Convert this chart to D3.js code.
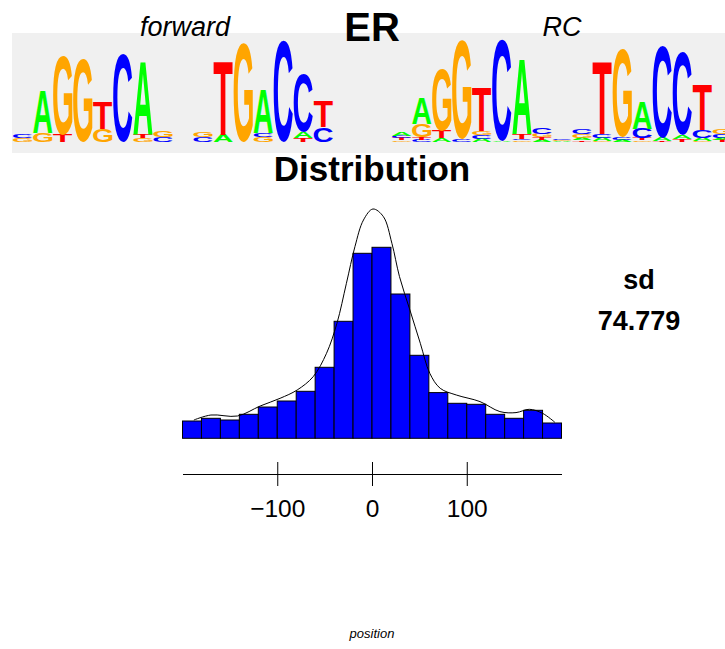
<!DOCTYPE html>
<html>
<head>
<meta charset="utf-8">
<script src="https://cdn.jsdelivr.net/npm/d3@7"></script>
<style>
  body { margin: 0; background: #fff; }
  svg { display: block; }
</style>
</head>
<body>
<div id="chart"></div>
<script>
// histogram of positions, bins of 20 from -200 to 200
const binStart = [-200, -180, -160, -140, -120, -100, -80, -60, -40, -20,
                  0, 20, 40, 60, 80, 100, 120, 140, 160, 180];
const binCounts = [17.3, 20, 18.3, 24, 31.3, 37.3, 47, 71, 117, 185,
                   191, 144.3, 83, 45.7, 35, 34, 24, 20, 28, 15.3];

// smoothed density (same units as the bars)
const densX = [-188, -170, -142, -118, -97, -79, -62, -48, -37, -27, -18, -9, 1,
               12, 21, 29, 40, 51, 61, 72, 89, 114, 135, 152, 166, 180, 193];
const densY = [18.3, 23.3, 22.3, 32.3, 40, 48.3, 61.7, 85, 115, 155, 191.7, 218.3, 229.3,
               221.7, 195, 161.7, 128.3, 95, 65, 50, 43.3, 36.7, 26.7, 25.7, 29, 25, 16];

const xTicks = [-100, 0, 100];
const sdValue = "74.779";

// sequence logos: each column is a bottom-up stack of [letter, bits]
const fwdLogo = [
  [["G", 0.08], ["C", 0.08]],
  [["G", 0.17], ["A", 0.83]],
  [["T", 0.14], ["G", 1.53]],
  [["G", 1.61]],
  [["G", 0.25], ["T", 0.52]],
  [["C", 1.71]],
  [["G", 0.08], ["T", 0.08], ["A", 1.40]],
  [["C", 0.10], ["G", 0.12]],
  [],
  [["C", 0.10], ["G", 0.11]],
  [["A", 0.14], ["T", 1.44]],
  [["G", 1.92]],
  [["G", 0.10], ["C", 0.08], ["A", 0.85]],
  [["C", 1.96]],
  [["T", 0.08], ["A", 0.12], ["C", 1.13]],
  [["C", 0.29], ["T", 0.49]],
  []
];
const rcLogo = [
  [["G", 0.03], ["T", 0.04], ["C", 0.04], ["A", 0.08]],
  [["C", 0.04], ["T", 0.06], ["G", 0.25], ["A", 0.49]],
  [["A", 0.08], ["T", 0.14], ["G", 1.20]],
  [["C", 0.06], ["G", 1.92]],
  [["A", 0.06], ["C", 0.07], ["G", 0.08], ["T", 0.85]],
  [["A", 0.02], ["C", 1.96]],
  [["G", 0.03], ["C", 0.03], ["T", 0.10], ["A", 1.46]],
  [["A", 0.04], ["T", 0.05], ["G", 0.07], ["C", 0.12]],
  [["A", 0.02], ["G", 0.02], ["C", 0.02]],
  [["T", 0.03], ["A", 0.04], ["G", 0.08], ["C", 0.10]],
  [["G", 0.02], ["A", 0.06], ["C", 0.08], ["T", 1.40]],
  [["A", 0.04], ["C", 0.06], ["G", 1.71]],
  [["G", 0.03], ["T", 0.04], ["C", 0.19], ["A", 0.54]],
  [["T", 0.02], ["A", 0.06], ["C", 1.79]],
  [["T", 0.06], ["A", 0.08], ["C", 1.61]],
  [["G", 0.02], ["A", 0.06], ["C", 0.16], ["T", 0.87]],
  [["T", 0.04], ["A", 0.04], ["C", 0.08], ["G", 0.10]]
];
const baseColors = {A: "#00ff00", C: "#0000ff", G: "#ffa500", T: "#ff0000"};

const width = 725, height = 649;

const svg = d3.select("#chart").append("svg")
    .attr("width", width)
    .attr("height", height)
    .attr("font-family", "'Liberation Sans', Arial, sans-serif");

// ---- logo panel ----
svg.append("rect")
    .attr("x", 12).attr("y", 33)
    .attr("width", width - 12).attr("height", 120)
    .attr("fill", "#f0f0f0");

// tight glyph bounds so letters can be stretched to fill their box
const ctx = document.createElement("canvas").getContext("2d");
ctx.font = "bold 100px 'Liberation Sans'";
const glyph = {};
["A", "C", "G", "T"].forEach(l => {
  const m = ctx.measureText(l);
  glyph[l] = {l: m.actualBoundingBoxLeft, r: m.actualBoundingBoxRight,
              a: m.actualBoundingBoxAscent, d: m.actualBoundingBoxDescent};
});

const bits = d3.scaleLinear().domain([0, 2]).range([142, 39]);

function drawLogo(data, x0) {
  const pos = d3.scaleBand()
      .domain(d3.range(data.length))
      .range([x0, x0 + 20 * data.length])
      .paddingInner(0.04);

  const g = svg.append("g");
  data.forEach((col, i) => {
    let acc = 0;
    col.forEach(([letter, h]) => {
      const yTop = bits(acc + h), yBot = bits(acc);
      acc += h;
      const gm = glyph[letter];
      const sx = pos.bandwidth() / (gm.l + gm.r);
      const sy = (yBot - yTop) / (gm.a + gm.d);
      g.append("text")
          .attr("transform", `translate(${pos(i)},${yTop}) scale(${sx},${sy}) translate(${gm.l},${gm.a})`)
          .attr("font-size", 100)
          .attr("font-weight", "bold")
          .attr("fill", baseColors[letter])
          .text(letter);
    });
  });
}

drawLogo(fwdLogo, 13);
drawLogo(rcLogo, 392);

// titles above logos
svg.append("text")
    .attr("x", 185).attr("y", 36)
    .attr("text-anchor", "middle")
    .attr("font-style", "italic")
    .attr("font-size", 27)
    .text("forward");

svg.append("text")
    .attr("x", 562).attr("y", 36)
    .attr("text-anchor", "middle")
    .attr("font-style", "italic")
    .attr("font-size", 27)
    .text("RC");

svg.append("text")
    .attr("x", 372).attr("y", 41)
    .attr("text-anchor", "middle")
    .attr("font-weight", "bold")
    .attr("font-size", 40)
    .text("ER");

// ---- distribution ----
svg.append("text")
    .attr("x", 372).attr("y", 181)
    .attr("text-anchor", "middle")
    .attr("font-weight", "bold")
    .attr("font-size", 35)
    .text("Distribution");

const x = d3.scaleLinear().domain([-200, 200]).range([182.5, 561.5]);
const y = d3.scaleLinear().domain([0, 230]).range([438.3, 208.3]);

svg.append("g")
  .selectAll("rect")
  .data(binStart)
  .join("rect")
    .attr("x", d => x(d))
    .attr("y", (d, i) => y(binCounts[i]))
    .attr("width", d => x(d + 20) - x(d))
    .attr("height", (d, i) => y(0) - y(binCounts[i]))
    .attr("fill", "#0000ff")
    .attr("stroke", "#000")
    .attr("stroke-width", 1);

const line = d3.line()
    .x(d => x(d[0]))
    .y(d => y(d[1]))
    .curve(d3.curveCatmullRom);

svg.append("path")
    .datum(d3.zip(densX, densY))
    .attr("fill", "none")
    .attr("stroke", "#000")
    .attr("stroke-width", 1)
    .attr("d", line);

// axis with ticks crossing the line
const xAxis = d3.axisBottom(x)
    .tickValues(xTicks)
    .tickSizeInner(12)
    .tickSizeOuter(0);

svg.append("g")
    .attr("transform", "translate(0,474)")
    .call(xAxis)
    .call(g => g.select(".domain").attr("stroke", "#000"))
    .call(g => g.selectAll(".tick line").attr("y1", -12).attr("y2", 12).attr("stroke", "#000"))
    .call(g => g.selectAll(".tick text")
        .attr("y", 43).attr("dy", null)
        .attr("font-size", 24.5)
        .attr("font-family", "'Liberation Sans', Arial, sans-serif")
        .attr("fill", "#000"));

svg.append("text")
    .attr("x", 372).attr("y", 638)
    .attr("text-anchor", "middle")
    .attr("font-style", "italic")
    .attr("font-size", 13)
    .text("position");

// sd annotation
svg.append("text")
    .attr("x", 639).attr("y", 289)
    .attr("text-anchor", "middle")
    .attr("font-weight", "bold")
    .attr("font-size", 27)
    .text("sd");

svg.append("text")
    .attr("x", 639).attr("y", 330)
    .attr("text-anchor", "middle")
    .attr("font-weight", "bold")
    .attr("font-size", 27)
    .text(sdValue);
</script>
</body>
</html>
